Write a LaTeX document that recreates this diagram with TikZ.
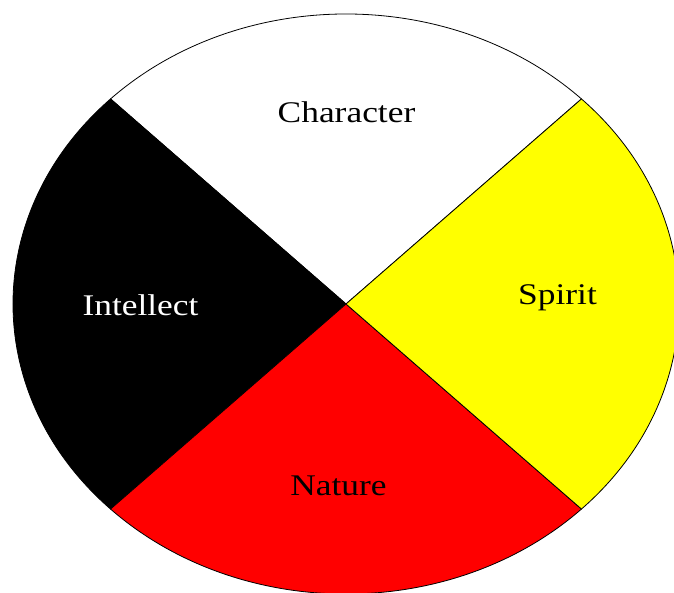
\documentclass[tikz,border=0pt]{standalone}
\usepackage{fontspec}
\setmainfont{Liberation Serif}
\definecolor{wheelyellow}{RGB}{255,255,0}
\definecolor{wheelred}{RGB}{255,0,0}
\definecolor{wheelblack}{RGB}{0,0,0}
\definecolor{wheelwhite}{RGB}{255,255,255}
\begin{document}
\begin{tikzpicture}[x=1pt,y=1pt,
  sector/.style={draw=black,line width=0.8pt,line join=round},
  lbl/.style={anchor=base,inner sep=0pt,xscale=1.18,font=\fontsize{30pt}{36pt}\selectfont}]
\useasboundingbox (0,0) rectangle (674,593);
\clip (0,0) rectangle (674,593);
\coordinate (c) at (346,289);
\filldraw[sector,fill=wheelwhite] (c) -- ++(45:333pt and 290pt) arc[start angle=45,end angle=135,x radius=333pt,y radius=290pt] -- cycle;
\filldraw[sector,fill=wheelblack] (c) -- ++(135:333pt and 290pt) arc[start angle=135,end angle=225,x radius=333pt,y radius=290pt] -- cycle;
\filldraw[sector,fill=wheelred] (c) -- ++(225:333pt and 290pt) arc[start angle=225,end angle=315,x radius=333pt,y radius=290pt] -- cycle;
\filldraw[sector,fill=wheelyellow] (c) -- ++(-45:333pt and 290pt) arc[start angle=-45,end angle=45,x radius=333pt,y radius=290pt] -- cycle;
\node[lbl] (character) at (346.5,470) {Character};
\node[lbl,text=white] (intellect) at (140.5,277) {Intellect};
\node[lbl] (spirit) at (557.5,288) {Spirit};
\node[lbl] (nature) at (338.5,97) {Nature};
\end{tikzpicture}
\end{document}
